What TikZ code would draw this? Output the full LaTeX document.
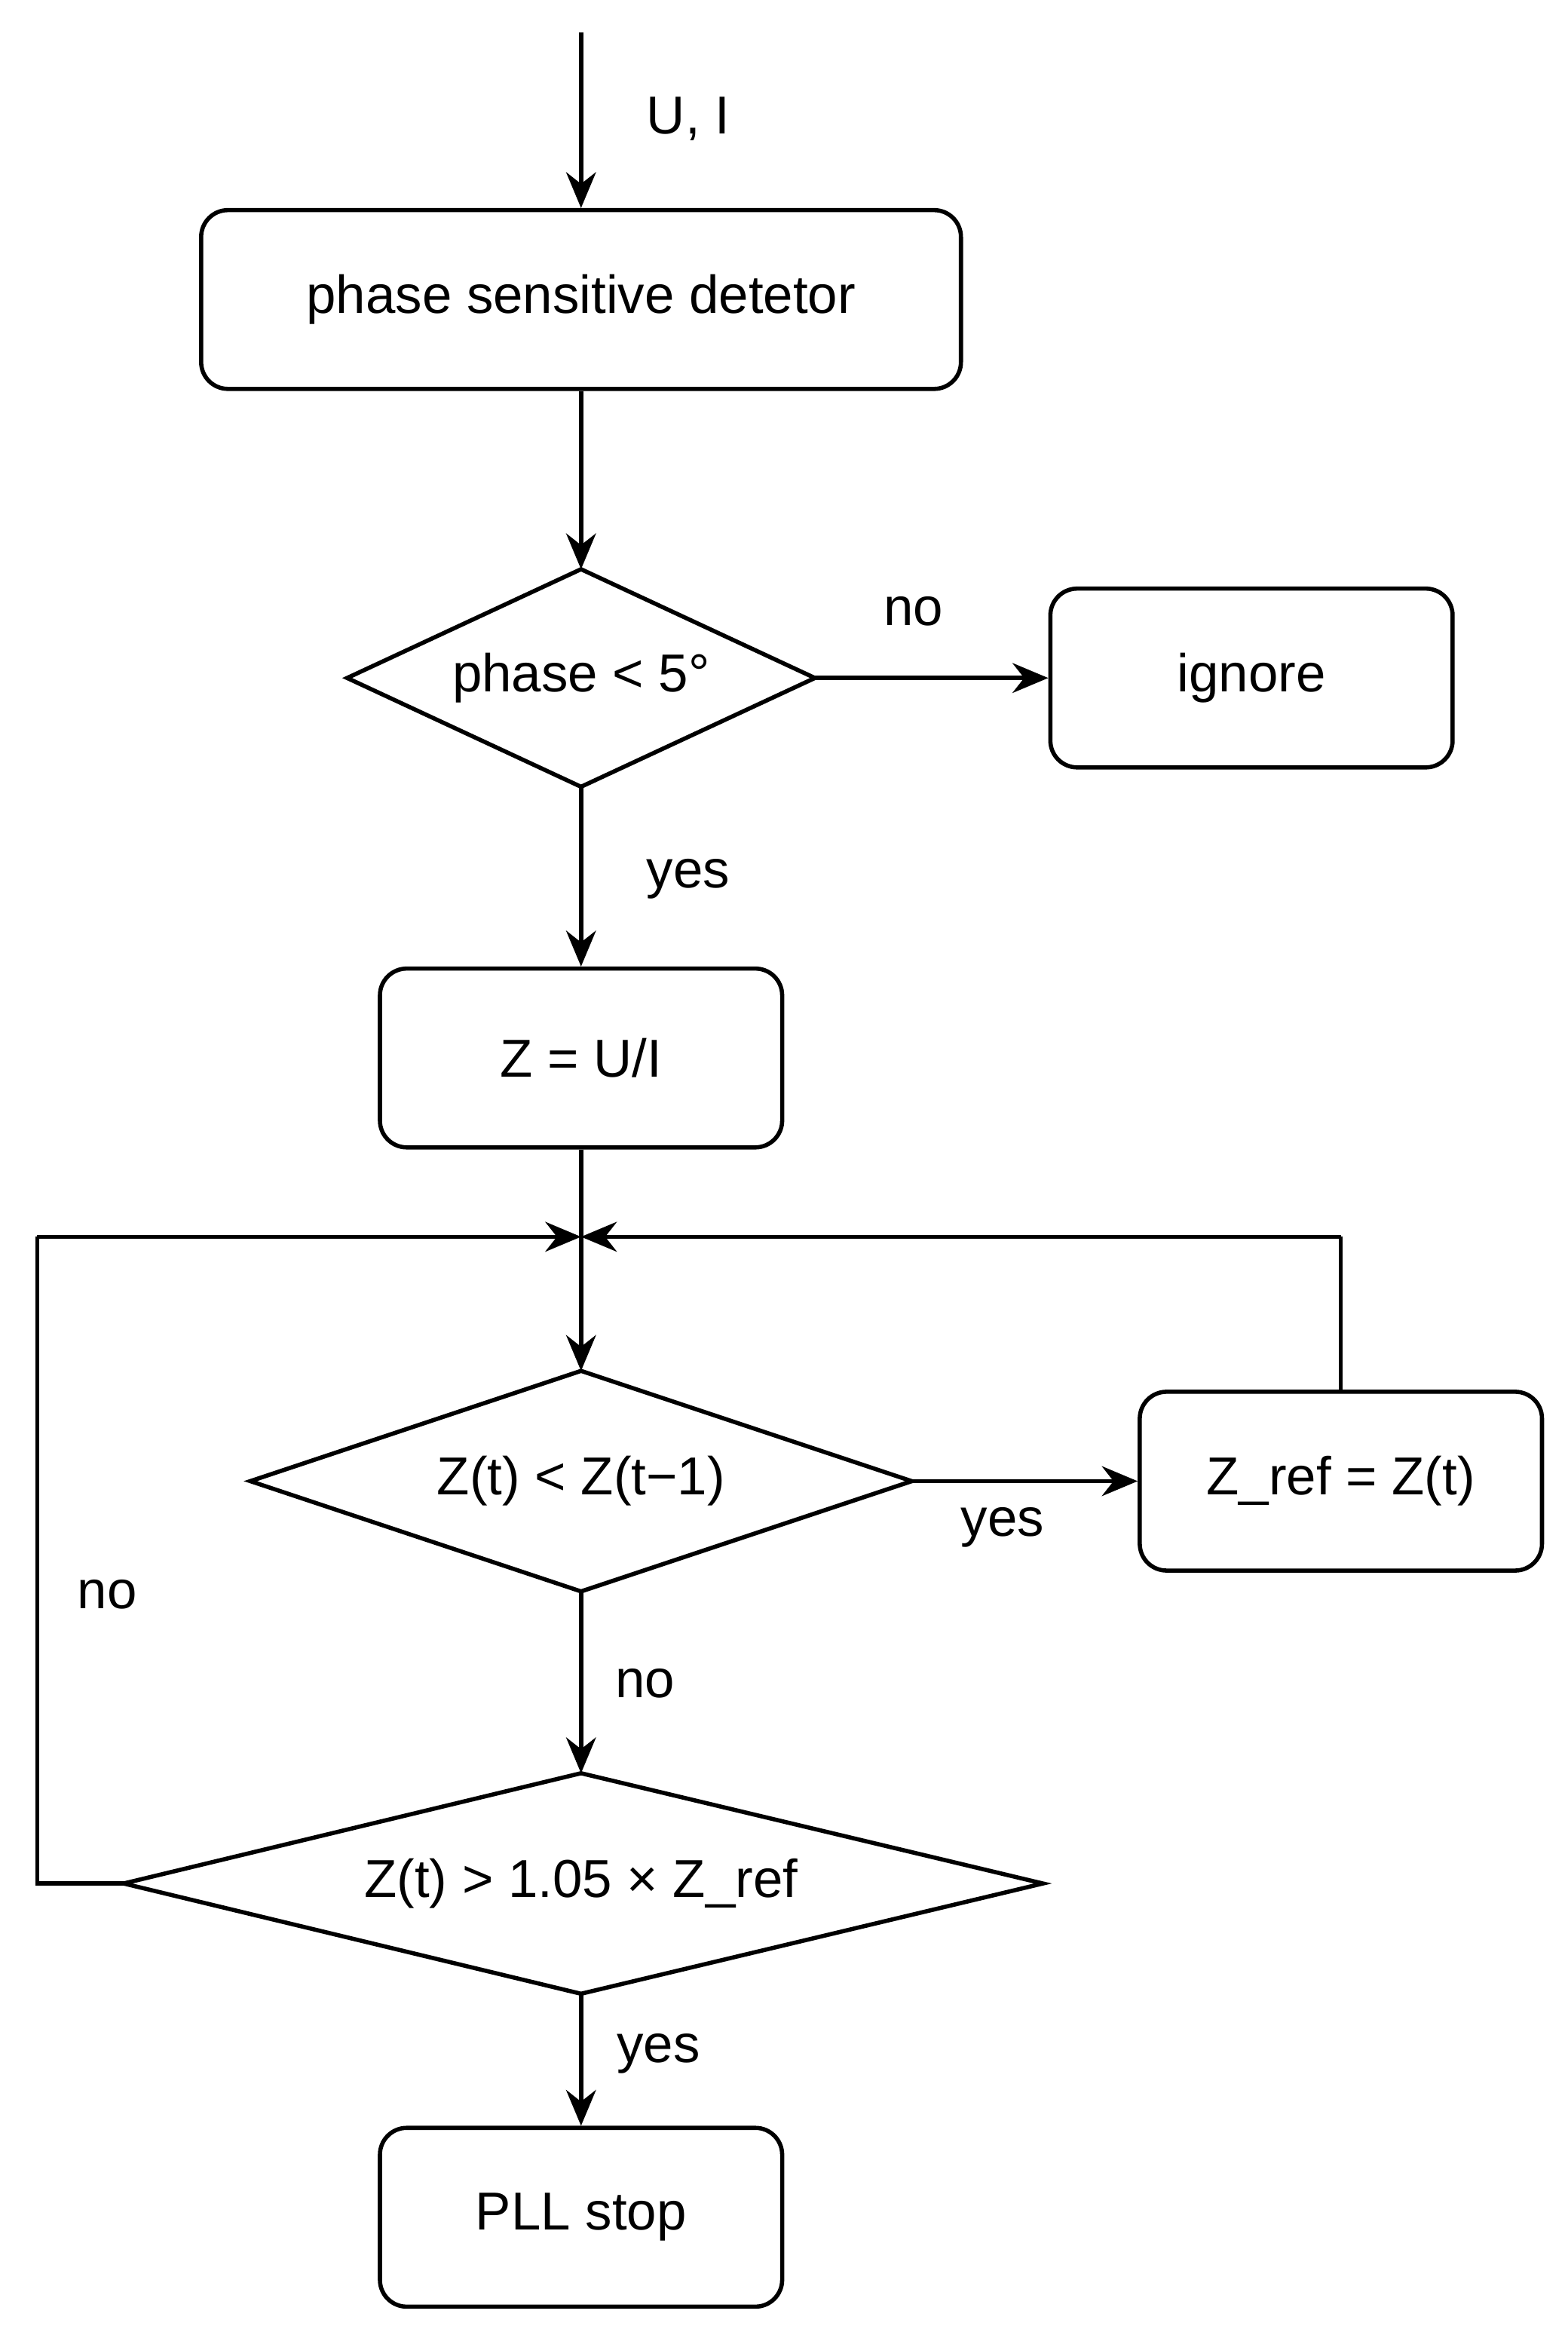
\documentclass[tikz,border=0pt]{standalone}
\usepackage{fontspec}
\setmainfont{Liberation Sans}
\usetikzlibrary{shapes.geometric,arrows.meta}
\begin{document}
\begin{tikzpicture}[x=0.05cm,y=-0.05cm,
  every node/.style={font=\fontsize{51}{60}\selectfont},
  line/.style={line width=4pt},
  arr/.style={line, -{Stealth[length=1.2cm,width=1.0cm]}},
  box/.style={draw,line width=4pt,rounded corners=0.9cm,minimum height=6cm,inner sep=0pt},
  dia/.style={draw,line width=4pt,line join=miter}]
\useasboundingbox (0,0) rectangle (1052,1563);
\node[box,minimum width=25.5cm] (psd) at (390,201) {phase sensitive detetor};
% diamond 1
\coordinate (d1n) at (390,382); \coordinate (d1s) at (390,528);
\coordinate (d1w) at (233,455); \coordinate (d1e) at (547,455);
\draw[dia] (d1n) -- (d1e) -- (d1s) -- (d1w) -- cycle;
\node (d1) at (390,455) {phase < 5°};
\node[box,minimum width=13.5cm] (ign) at (840,455) {ignore};
\node[box,minimum width=13.5cm] (z) at (390,710) {Z = U/I};
% diamond 2
\coordinate (d2n) at (390,920); \coordinate (d2s) at (390,1068);
\coordinate (d2w) at (168,994); \coordinate (d2e) at (612,994);
\draw[dia] (d2n) -- (d2e) -- (d2s) -- (d2w) -- cycle;
\node (d2) at (390,994) {Z(t) < Z(t−1)};
\node[box,minimum width=13.5cm] (zref) at (900,994) {Z\_ref = Z(t)};
% diamond 3
\coordinate (d3n) at (390,1190); \coordinate (d3s) at (390,1338);
\coordinate (d3w) at (83,1264); \coordinate (d3e) at (700,1264);
\draw[dia] (d3n) -- (d3e) -- (d3s) -- (d3w) -- cycle;
\node (d3) at (390,1264) {Z(t) > 1.05 × Z\_ref};
\node[box,minimum width=13.5cm] (pll) at (390,1488) {PLL stop};
\coordinate (in) at (390,22);
\coordinate (j) at (390,830);
\coordinate (jl) at (25,830);
\coordinate (jr) at (900,830);
\draw[arr] (in) -- (psd.north);
\draw[arr] (psd.south) -- (d1n);
\draw[arr] (d1e) -- (ign.west);
\draw[arr] (d1s) -- (z.north);
\draw[arr] (z.south) -- (d2n);
\draw[arr] (d2e) -- (zref.west);
\draw[arr] (d2s) -- (d3n);
\draw[arr] (d3s) -- (pll.north);
\draw[line] (zref.north) -- (jr);
\draw[arr] (jr) -- (j);
\draw[line] (d3w) -- (25,1264) -- (jl);
\draw[arr] (jl) -- (j);
\node at (462,80) {U, I};
\node at (613,410) {no};
\node at (462,590) {yes};
\node at (673,1025) {yes};
\node at (433,1130) {no};
\node at (72,1070) {no};
\node at (442,1378) {yes};
\end{tikzpicture}
\end{document}
